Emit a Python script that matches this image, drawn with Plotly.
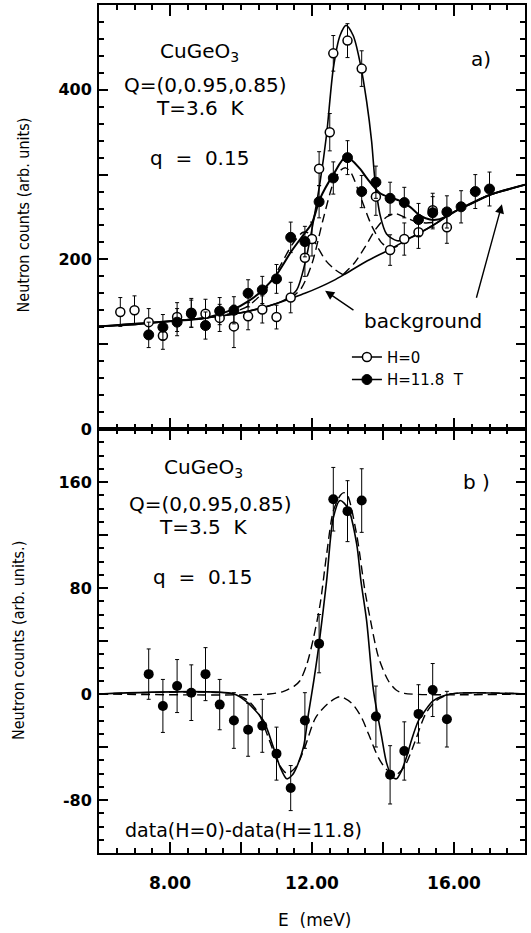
import plotly.graph_objects as go
from plotly.subplots import make_subplots

# ---------------- data: panel a ----------------
E_h0 = [6.6, 7.0, 7.4, 7.8, 8.2, 8.6, 9.0, 9.4, 9.8, 10.2, 10.6, 11.0, 11.4, 11.8, 12.0, 12.2, 12.5, 12.6, 13.0, 13.4, 13.8, 14.2, 14.6, 15.0, 15.4, 15.8]
I_h0 = [138, 140, 126, 110, 132, 137, 136, 131, 121, 133, 141, 132, 155, 202, 224, 307, 350, 443, 458, 425, 274, 211, 224, 232, 258, 238]
S_h0 = [17, 17, 16, 16, 17, 17, 17, 16, 25, 16, 16, 14, 18, 22, 20, 20, 22, 21, 20, 21, 22, 18, 19, 19, 20, 19]

E_h1 = [7.4, 7.8, 8.2, 8.6, 9.0, 9.4, 9.8, 10.2, 10.6, 11.0, 11.4, 11.8, 12.2, 12.6, 13.0, 13.4, 13.8, 14.2, 14.6, 15.0, 15.4, 15.8, 16.2, 16.6, 17.0]
I_h1 = [111, 120, 126, 136, 122, 139, 140, 160, 164, 177, 226, 221, 268, 296, 320, 280, 291, 272, 267, 247, 255, 256, 262, 280, 283]
S_h1 = [15, 15, 16, 16, 16, 16, 16, 16, 16, 17, 18, 18, 19, 19, 20, 19, 19, 19, 18, 19, 19, 19, 19, 20, 20]

# fitted curves (E, counts)
bg_E = [6.0, 7.0, 8.0, 9.0, 10.0, 10.6, 11.0, 11.4, 11.8, 12.2, 12.6, 12.9, 13.5, 14.2, 14.8, 15.4, 16.0, 16.5, 17.0, 17.5, 18.0]
bg_I = [121, 123, 127, 131, 137, 143, 148, 154, 160, 167, 175, 182, 197, 212, 226, 240, 256, 266, 276, 282, 288]

fit0_E = [6.0, 8.0, 9.0, 10.0, 10.6, 11.0, 11.3, 11.57, 11.8, 12.04, 12.23, 12.41, 12.6, 12.79, 12.96, 13.16, 13.35, 13.54, 13.68, 13.77, 13.92, 14.1, 14.4, 14.8, 15.4, 16.0, 17.0, 18.0]
fit0_I = [121, 127, 131, 137, 143, 148, 154, 164, 195, 245, 292, 347, 425, 464, 476, 464, 433, 386, 339, 295, 252, 230, 222, 226, 240, 256, 276, 288]

fit1_E = [6.0, 8.0, 9.0, 9.78, 10.22, 10.61, 11.0, 11.41, 11.76, 12.0, 12.23, 12.6, 12.96, 13.35, 13.54, 13.92, 14.2, 14.48, 14.76, 15.04, 15.32, 15.55, 15.8, 16.1, 16.5, 17.0, 18.0]
fit1_I = [121, 127, 131, 141, 151, 164, 182, 209, 229, 243, 272, 300, 321, 307, 296, 278, 273, 269, 262, 252, 247, 247, 251, 258, 266, 276, 288]

dc_E = [11.4, 11.7, 12.0, 12.3, 12.6, 12.8, 12.95, 13.1, 13.4, 13.7, 14.0, 14.3, 14.6]
dc_I = [154, 166, 195, 245, 290, 305, 308, 302, 270, 238, 218, 214, 220]

dl_E = [9.6, 10.2, 10.7, 11.1, 11.45, 11.75, 11.95, 12.15, 12.4, 12.65, 12.87]
dl_I = [135, 145, 165, 192, 218, 232, 230, 215, 198, 188, 182]

dr_E = [12.87, 13.2, 13.5, 13.8, 14.1, 14.35, 14.6, 14.9, 15.2, 15.5]
dr_I = [182, 196, 215, 236, 250, 254, 250, 245, 243, 244]

# ---------------- data: panel b ----------------
E_d = [7.4, 7.8, 8.2, 8.6, 9.0, 9.4, 9.8, 10.2, 10.6, 11.0, 11.4, 11.8, 12.2, 12.6, 13.0, 13.4, 13.8, 14.2, 14.6, 15.0, 15.4, 15.8]
I_d = [15, -9, 6, 1, 15, -8, -20, -27, -24, -45, -71, -20, 38, 147, 138, 146, -17, -61, -43, -15, 3, -19]
S_d = [19, 20, 20, 21, 20, 19, 21, 20, 20, 20, 17, 21, 22, 24, 23, 24, 23, 22, 22, 22, 20, 21]

fitd_E = [6.0, 9.8, 10.16, 10.63, 10.91, 11.1, 11.29, 11.45, 11.57, 11.76, 11.9, 12.05, 12.2, 12.41, 12.6, 12.79, 13.02, 13.26, 13.38, 13.54, 13.73, 13.96, 14.1, 14.25, 14.38, 14.52, 14.67, 14.8, 15.0, 15.2, 15.42, 15.9, 18.0]
fitd_I = [0, 0, -6, -20, -40, -55, -64, -61, -55, -40, -15, 10, 38, 85, 133, 146, 140, 113, 85, 55, 3, -32, -52, -62, -64, -58, -47, -35, -20, -12, -5, 0, 0]

dpos_E = [6.0, 10.8, 11.2, 11.5, 11.66, 11.85, 12.04, 12.23, 12.41, 12.6, 12.8, 12.9, 13.0, 13.26, 13.49, 13.63, 13.87, 14.15, 14.37, 14.6, 18.0]
dpos_I = [0, 0, 2, 6, 10, 22, 42, 68, 105, 138, 150, 152, 150, 120, 78, 58, 28, 10, 3, 0.5, 0]

dneg_E = [6.0, 9.8, 10.2, 10.5, 10.8, 11.05, 11.3, 11.55, 11.8, 12.1, 12.46, 12.79, 13.12, 13.4, 13.59, 13.87, 14.1, 14.35, 14.6, 14.9, 15.2, 15.5, 15.9, 18.0]
dneg_I = [0, 0, -5, -15, -35, -52, -60, -55, -40, -18, -7, -2, -7, -18, -30, -48, -57, -61, -55, -36, -15, -5, 0, 0]

# ---------------- axes ticks ----------------
x_tickvals = [6, 8, 10, 12, 14, 16, 18]
x_ticktext = ["", "8.00", "", "12.00", "", "16.00", ""]
ya_tickvals = [0, 100, 200, 300, 400, 500]
ya_ticktext = ["0", "", "200", "", "400", ""]
yb_tickvals = [-120, -80, -40, 0, 40, 80, 120, 160, 200]
yb_ticktext = ["", "-80", "", "0", "", "80", "", "160", ""]

FONT = "DejaVu Sans"
TITLEFONT = "Liberation Sans Narrow, DejaVu Sans Condensed, Liberation Sans"
BLK = "black"

fig = make_subplots(rows=2, cols=1, shared_xaxes=True, vertical_spacing=0)

def curve(x, y, row, dash="solid", width=1.6):
    fig.add_trace(go.Scatter(x=x, y=y, mode="lines", showlegend=False,
                             line=dict(color=BLK, width=width, dash=dash, shape="spline", smoothing=0.8)),
                  row=row, col=1)

# panel a curves
curve(bg_E, bg_I, 1)
curve(fit0_E, fit0_I, 1)
curve(fit1_E, fit1_I, 1, width=2)
curve(dc_E, dc_I, 1, dash="9px,5px", width=1.4)
curve(dl_E, dl_I, 1, dash="9px,5px", width=1.4)
curve(dr_E, dr_I, 1, dash="9px,5px", width=1.4)

open_marker = dict(symbol="circle", size=9, color="white", line=dict(color=BLK, width=1.5))
full_marker = dict(symbol="circle", size=10, color=BLK, line=dict(color=BLK, width=1))

# panel a data
fig.add_trace(go.Scatter(x=E_h0, y=I_h0, mode="markers", showlegend=False,
                         error_y=dict(type="data", array=S_h0, color=BLK, thickness=1, width=2),
                         marker=open_marker), row=1, col=1)
fig.add_trace(go.Scatter(x=E_h1, y=I_h1, mode="markers", showlegend=False,
                         error_y=dict(type="data", array=S_h1, color=BLK, thickness=1, width=2),
                         marker=full_marker), row=1, col=1)
# legend entries
fig.add_trace(go.Scatter(x=[None], y=[None], mode="lines+markers", name="H=0",
                         line=dict(color=BLK, width=1.6), marker=open_marker), row=1, col=1)
fig.add_trace(go.Scatter(x=[None], y=[None], mode="lines+markers", name="H=11.8  T",
                         line=dict(color=BLK, width=1.6), marker=full_marker), row=1, col=1)

# panel b
curve(dpos_E, dpos_I, 2, dash="9px,5px", width=1.4)
curve(dneg_E, dneg_I, 2, dash="9px,5px", width=1.4)
curve(fitd_E, fitd_I, 2, width=1.6)
fig.add_trace(go.Scatter(x=E_d, y=I_d, mode="markers", showlegend=False,
                         error_y=dict(type="data", array=S_d, color=BLK, thickness=1, width=2),
                         marker=dict(symbol="circle", size=10, color=BLK)),
              row=2, col=1)

axis_common = dict(showline=True, linewidth=2, linecolor=BLK, mirror="allticks",
                   ticks="inside", tickcolor=BLK, tickwidth=1.5, showgrid=False, zeroline=False)

fig.update_xaxes(range=[6, 18], tickmode="array", tickvals=x_tickvals, ticktext=x_ticktext,
                 ticklen=11, minor=dict(dtick=0.5, tick0=6, ticklen=5, ticks="inside", tickcolor=BLK, tickwidth=1.5),
                 tickfont=dict(family=FONT, size=17, color=BLK, weight="bold"), ticklabelstandoff=14,
                 **axis_common)
fig.update_xaxes(showticklabels=False, row=1, col=1)

fig.update_yaxes(range=[0, 500], tickmode="array", tickvals=ya_tickvals, ticktext=ya_ticktext,
                 ticklen=9, minor=dict(dtick=20, tick0=0, ticklen=5, ticks="inside", tickcolor=BLK, tickwidth=1.5),
                 tickfont=dict(family=FONT, size=16, color=BLK, weight="bold"), ticklabelstandoff=2,
                 **axis_common, row=1, col=1)
fig.update_yaxes(range=[-120, 200], tickmode="array", tickvals=yb_tickvals, ticktext=yb_ticktext,
                 ticklen=9, minor=dict(dtick=10, tick0=0, ticklen=5, ticks="inside", tickcolor=BLK, tickwidth=1.5),
                 tickfont=dict(family=FONT, size=16, color=BLK, weight="bold"), ticklabelstandoff=2,
                 **axis_common, row=2, col=1)

fig.update_layout(yaxis=dict(domain=[0.5, 1.0]), yaxis2=dict(domain=[0.0, 0.5]))

ann_font = dict(family=FONT, size=20, color=BLK)
anns = [
    dict(x=0.237, y=0.945, text="CuGeO<sub>3</sub>"),
    dict(x=0.251, y=0.906, text="Q=(0,0.95,0.85)"),
    dict(x=0.237, y=0.879, text="T=3.6  K"),
    dict(x=0.237, y=0.819, text="q  =  0.15"),
    dict(x=0.897, y=0.936, text="a)"),
    dict(x=0.246, y=0.454, text="CuGeO<sub>3</sub>"),
    dict(x=0.261, y=0.412, text="Q=(0,0.95,0.85)"),
    dict(x=0.244, y=0.384, text="T=3.5  K"),
    dict(x=0.244, y=0.325, text="q  =  0.15"),
    dict(x=0.885, y=0.438, text="b )"),
    dict(x=0.340, y=0.027, text="data(H=0)-data(H=11.8)", font=dict(family=FONT, size=19, color=BLK)),
    dict(x=0.761, y=0.627, text="background"),
    dict(x=0.505, y=-0.079, text="E  (meV)", font=dict(family=FONT, size=17, color=BLK)),
]
for a in anns:
    a.setdefault("font", ann_font)
    fig.add_annotation(xref="paper", yref="paper", xanchor="center", yanchor="middle",
                       showarrow=False, **a)

# arrows pointing at the background curve
fig.add_annotation(x=12.37, y=163, ax=13.21, ay=139, xref="x", yref="y", axref="x", ayref="y",
                   text="", showarrow=True, arrowhead=2, arrowsize=1.3, arrowwidth=1.4, arrowcolor=BLK)
fig.add_annotation(x=17.35, y=265, ax=16.62, ay=153, xref="x", yref="y", axref="x", ayref="y",
                   text="", showarrow=True, arrowhead=2, arrowsize=1.3, arrowwidth=1.4, arrowcolor=BLK)

# y-axis titles
fig.add_annotation(xref="paper", yref="paper", x=-0.178, y=0.752, xanchor="center", yanchor="middle",
                   text="Neutron counts (arb. units)", textangle=-90, showarrow=False,
                   font=dict(family=TITLEFONT, size=16, color=BLK))
fig.add_annotation(xref="paper", yref="paper", x=-0.19, y=0.25, xanchor="center", yanchor="middle",
                   text="Neutron counts (arb. units.)", textangle=-90, showarrow=False,
                   font=dict(family=TITLEFONT, size=16, color=BLK))

fig.update_layout(
    width=531, height=933, margin=dict(l=99, r=6, t=3, b=80),
    paper_bgcolor="white", plot_bgcolor="white",
    showlegend=True,
    legend=dict(x=0.582, y=0.604, xanchor="left", yanchor="top", bgcolor="rgba(0,0,0,0)",
                font=dict(family=FONT, size=15, color=BLK), itemwidth=30, tracegroupgap=2),
)

fig.write_html("out.html")
